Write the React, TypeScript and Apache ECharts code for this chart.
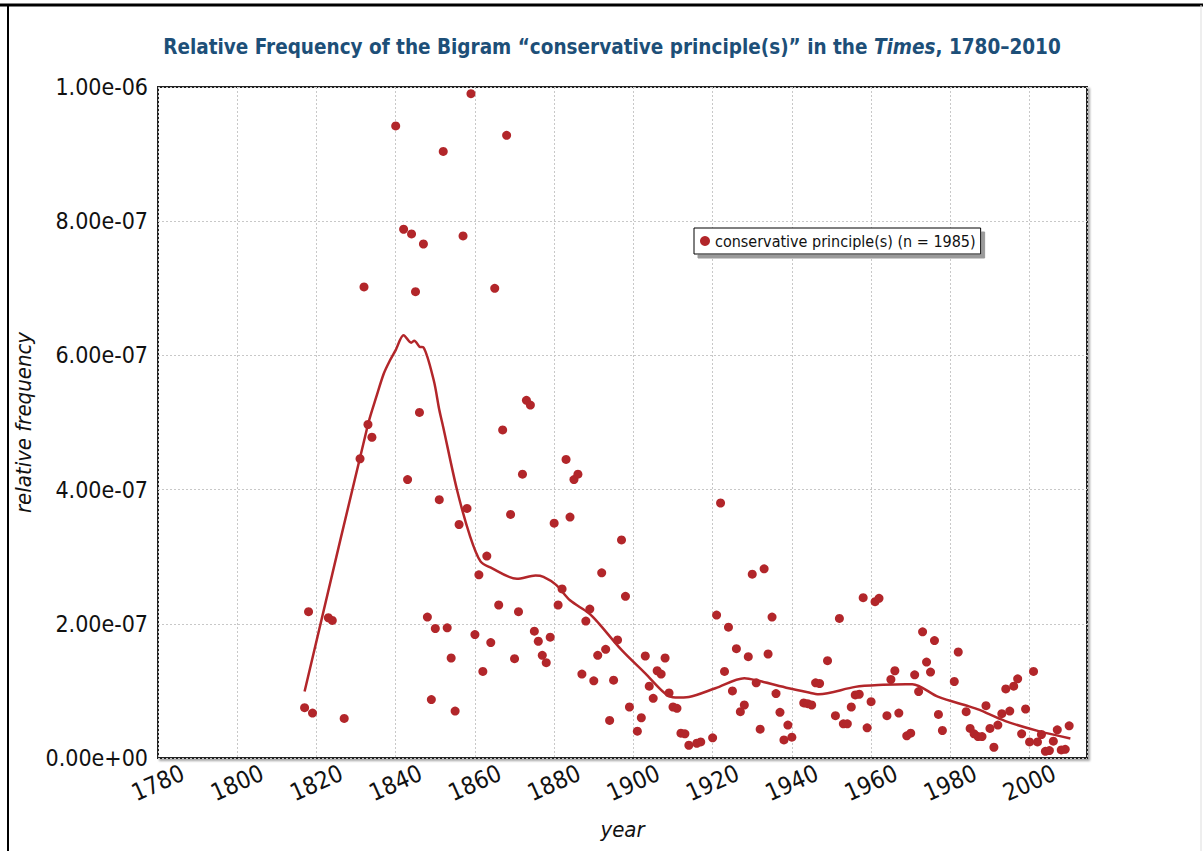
import React, { useEffect, useRef } from "react";
import * as echarts from "echarts";

// Observed (year, relative frequency in units of 1e-7)
const pointYears: number[] = [
  1817, 1818, 1819, 1823, 1824, 1827, 1831, 1832, 1833, 1834, 1840, 1842, 1843, 1844, 1845, 1846, 1847, 1848, 1849, 1850,
  1851, 1852, 1853, 1854, 1855, 1856, 1857, 1858, 1859, 1860, 1861, 1862, 1863, 1864, 1865, 1866, 1867, 1868, 1869, 1870,
  1871, 1872, 1873, 1874, 1875, 1876, 1877, 1878, 1879, 1880, 1881, 1882, 1883, 1884, 1885, 1886, 1887, 1888, 1889, 1890,
  1891, 1892, 1893, 1894, 1895, 1896, 1897, 1898, 1899, 1901, 1902, 1903, 1904, 1905, 1906, 1907, 1908, 1909, 1910, 1911,
  1912, 1913, 1914, 1916, 1917, 1920, 1921, 1922, 1923, 1924, 1925, 1926, 1927, 1928, 1929, 1930, 1931, 1932, 1933, 1934,
  1935, 1936, 1937, 1938, 1939, 1940, 1943, 1944, 1945, 1946, 1947, 1949, 1951, 1952, 1953, 1954, 1955, 1956, 1957, 1958,
  1959, 1960, 1961, 1962, 1964, 1965, 1966, 1967, 1969, 1970, 1971, 1972, 1973, 1974, 1975, 1976, 1977, 1978, 1981, 1982,
  1984, 1985, 1986, 1987, 1988, 1989, 1990, 1991, 1992, 1993, 1994, 1995, 1996, 1997, 1998, 1999, 2000, 2001, 2002, 2003,
  2004, 2005, 2006, 2007, 2008, 2009, 2010,
];
const pointFreqE7: number[] = [
  0.75, 2.18, 0.67, 2.09, 2.05, 0.59, 4.46, 7.02, 4.97, 4.78, 9.42, 7.88, 4.15, 7.81, 6.95, 5.15, 7.66, 2.10, 0.87, 1.93,
  3.85, 9.04, 1.94, 1.49, 0.70, 3.48, 7.78, 3.72, 9.90, 1.84, 2.73, 1.29, 3.01, 1.72, 7.00, 2.28, 4.89, 9.28, 3.63, 1.48,
  2.18, 4.23, 5.33, 5.26, 1.89, 1.74, 1.53, 1.42, 1.80, 3.50, 2.28, 2.52, 4.45, 3.59, 4.15, 4.23, 1.25, 2.04, 2.22, 1.15,
  1.53, 2.76, 1.62, 0.56, 1.16, 1.76, 3.25, 2.41, 0.76, 0.40, 0.60, 1.52, 1.07, 0.89, 1.30, 1.25, 1.49, 0.97, 0.76, 0.74,
  0.37, 0.36, 0.19, 0.22, 0.24, 0.30, 2.13, 3.80, 1.29, 1.95, 1.00, 1.63, 0.69, 0.79, 1.51, 2.74, 1.12, 0.43, 2.82, 1.55,
  2.10, 0.96, 0.68, 0.27, 0.49, 0.31, 0.82, 0.81, 0.79, 1.12, 1.11, 1.45, 0.63, 2.08, 0.51, 0.51, 0.76, 0.94, 0.95, 2.39,
  0.45, 0.84, 2.33, 2.38, 0.63, 1.17, 1.30, 0.67, 0.33, 0.37, 1.24, 0.99, 1.88, 1.43, 1.28, 1.75, 0.65, 0.41, 1.14, 1.58,
  0.69, 0.44, 0.36, 0.32, 0.32, 0.78, 0.44, 0.16, 0.49, 0.66, 1.03, 0.70, 1.07, 1.18, 0.36, 0.73, 0.24, 1.29, 0.24, 0.35,
  0.10, 0.11, 0.25, 0.42, 0.12, 0.13, 0.48,
];

// Smoothed trend (year, value in units of 1e-7)
const trendYears: number[] = [
  1817, 1833, 1835.2, 1837, 1838.5, 1840, 1842, 1843.9, 1844.7, 1846, 1847, 1849.6, 1851, 1852, 1855.5, 1858.8, 1861.4,
  1863.9, 1870.6, 1875.3, 1877.3, 1880.5, 1884, 1888.7, 1891.2, 1897, 1903, 1908, 1910.6, 1914, 1920.7, 1928, 1931.6,
  1939.2, 1944, 1946.8, 1956, 1963, 1968.7, 1970.4, 1977, 1984.7, 1987.2, 1993.9, 2002.3, 2010.3,
];
const trendFreqE7: number[] = [
  0.99, 4.97, 5.4, 5.73, 5.92, 6.08, 6.3, 6.19, 6.22, 6.13, 6.12, 5.63, 5.19, 4.93, 3.99, 3.3, 2.93,
  2.84, 2.67, 2.72, 2.7, 2.58, 2.35, 2.16, 2.01, 1.61, 1.26, 0.96, 0.9, 0.91, 1.04, 1.19, 1.15,
  1.04, 0.98, 0.95, 1.06, 1.09, 1.1, 1.1, 0.91, 0.77, 0.72, 0.55, 0.4, 0.29,
];

const SERIES_NAME = "conservative principle(s) (n = 1985)";
const X_MIN = 1780;
const X_MAX = 2014.5;
const X_STEP = 20;
const Y_MAX = 1e-6;
const Y_STEP = 2e-7;

const RED = "#b2262a";
const NARROW = '"Liberation Sans Narrow", "DejaVu Sans Condensed", "Roboto", sans-serif';

function fmtExp(v: number): string {
  if (Math.abs(v) < 1e-15) return "0.00e+00";
  const s = v.toExponential(2);
  return s.replace(/e([+-])(\d)$/, "e$10$2");
}

export default function App() {
  const ref = useRef<HTMLDivElement>(null);
  useEffect(() => {
    if (!ref.current) return;
    const chart = echarts.init(ref.current, null, { renderer: "svg" });
    const scatterData = pointYears.map((y, i) => [y, pointFreqE7[i] * 1e-7]);
    const trendData = trendYears.map((y, i) => [y, trendFreqE7[i] * 1e-7]);
    chart.setOption({
      animation: false,
      backgroundColor: "#fff",
      title: {
        text: "{a|Relative Frequency of the Bigram “conservative principle(s)” in the }{i|Times}{a|, 1780–2010}",
        left: 607,
        textAlign: "center",
        top: 31,
        textStyle: {
          rich: {
            a: { fontFamily: NARROW, fontWeight: "bold", fontSize: 20.5, color: "#1d4f78" },
            i: { fontFamily: NARROW, fontWeight: "bold", fontStyle: "italic", fontSize: 20.5, color: "#1d4f78" },
          },
        },
      },
      legend: {
        left: 694,
        top: 228,
        data: [SERIES_NAME],
        icon: "circle",
        itemWidth: 10,
        itemHeight: 10,
        itemGap: 4,
        padding: [5, 5, 5, 6],
        backgroundColor: "#fff",
        borderColor: "#000",
        borderWidth: 1,
        shadowColor: "#9a9a9a",
        shadowOffsetX: 4,
        shadowOffsetY: 4,
        shadowBlur: 0,
        textStyle: { fontFamily: NARROW, fontSize: 16, color: "#111" },
      },
      grid: {
        left: 158,
        right: 116,
        top: 87,
        bottom: 93,
        show: true,
        backgroundColor: "#fff",
        borderColor: "#222",
        borderWidth: 2,
        shadowColor: "rgba(0,0,0,0.35)",
        shadowOffsetX: 2,
        shadowOffsetY: 2,
        shadowBlur: 2,
      },
      xAxis: {
        type: "value",
        min: X_MIN,
        max: X_MAX,
        interval: X_STEP,
        name: "year",
        nameLocation: "middle",
        nameGap: 60,
        nameTextStyle: { fontFamily: NARROW, fontStyle: "italic", fontSize: 22, color: "#111" },
        axisLine: { show: false },
        axisTick: { show: false },
        axisLabel: {
          rotate: 24,
          align: "center",
          verticalAlign: "middle",
          margin: 25,
          fontFamily: NARROW,
          fontSize: 24,
          color: "#111",
          showMaxLabel: false,
          formatter: (v: number) => ((v - X_MIN) % X_STEP === 0 ? String(v) : ""),
        },
        splitLine: { show: true, lineStyle: { color: "#c8c8c8", type: [2, 2], width: 1 } },
      },
      yAxis: {
        type: "value",
        min: 0,
        max: Y_MAX,
        interval: Y_STEP,
        name: "relative frequency",
        nameLocation: "middle",
        nameGap: 124,
        nameTextStyle: { fontFamily: NARROW, fontStyle: "italic", fontSize: 22, color: "#111" },
        axisLine: { show: false },
        axisTick: { show: false },
        axisLabel: {
          margin: 10,
          fontFamily: NARROW,
          fontSize: 23,
          color: "#111",
          formatter: (v: number) => fmtExp(v),
        },
        splitLine: { show: true, lineStyle: { color: "#c8c8c8", type: [2, 2], width: 1 } },
      },
      series: [
        {
          name: SERIES_NAME,
          type: "scatter",
          data: scatterData,
          symbol: "circle",
          symbolSize: 9,
          itemStyle: { color: RED, opacity: 1 },
          z: 3,
        },
        {
          name: "trend",
          type: "line",
          data: trendData,
          showSymbol: false,
          smooth: 0.3,
          lineStyle: { color: RED, width: 2.5 },
          itemStyle: { color: RED },
          z: 2,
        },
      ],
      graphic: [
        { type: "line", shape: { x1: 0, y1: 5, x2: 1203, y2: 5 }, style: { stroke: "#000", lineWidth: 3 } },
        { type: "line", shape: { x1: 8, y1: 5, x2: 8, y2: 851 }, style: { stroke: "#000", lineWidth: 2 } },
        { type: "line", shape: { x1: 1201, y1: 5, x2: 1201, y2: 851 }, style: { stroke: "#ddd", lineWidth: 1 } },
      ],
    });
    return () => chart.dispose();
  }, []);
  return (
    <div
      ref={ref}
      style={{ position: "fixed", left: 0, top: 0, width: 1203, height: 851, background: "#fff" }}
    />
  );
}
